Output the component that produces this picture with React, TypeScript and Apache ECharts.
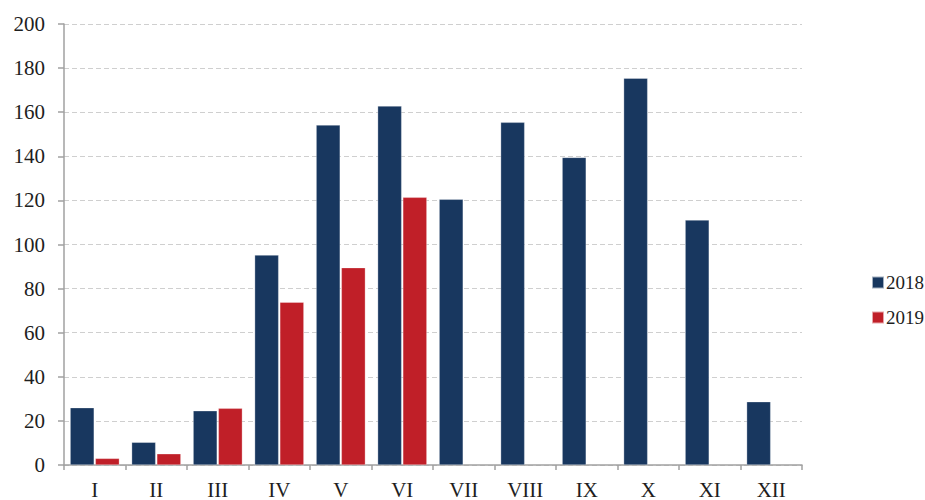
import React, { useEffect, useRef } from "react";
import * as echarts from "echarts";

const months = ["I", "II", "III", "IV", "V", "VI", "VII", "VIII", "IX", "X", "XI", "XII"];
const values2018 = [26, 10.3, 24.6, 95.2, 154.2, 162.8, 120.5, 155.4, 139.5, 175.4, 111.1, 28.7];
const values2019 = [3, 5.1, 25.7, 73.8, 89.5, 121.4, null, null, null, null, null, null];
const yTicks = { min: 0, max: 200, interval: 20 };

const NAVY = "#18375f";
const RED = "#c01f28";
const TEXT = "#1e1e1e";
const FONT = "Liberation Serif";

export default function App() {
  const ref = useRef<HTMLDivElement>(null);
  useEffect(() => {
    if (!ref.current) return;
    const chart = echarts.init(ref.current, undefined, { renderer: "svg" });
    chart.setOption({
      animation: false,
      backgroundColor: "#ffffff",
      textStyle: { fontFamily: FONT },
      grid: { left: 64, right: 123, top: 24, bottom: 35, containLabel: false },
      legend: {
        orient: "vertical",
        left: 866,
        top: 268,
        itemWidth: 12,
        itemHeight: 12,
        itemGap: 16,
        icon: "rect",
        textStyle: { fontFamily: FONT, fontSize: 19, color: TEXT, padding: [0, 0, 0, -3] },
        data: ["2018", "2019"],
      },
      xAxis: {
        type: "category",
        data: months,
        axisLine: { lineStyle: { color: "#a0a0a0", width: 1.5 } },
        axisTick: { show: true, length: 5, lineStyle: { color: "#a0a0a0", width: 1.5 } },
        axisLabel: { fontFamily: FONT, fontSize: 21, color: TEXT, margin: 14 },
      },
      yAxis: {
        type: "value",
        min: yTicks.min,
        max: yTicks.max,
        interval: yTicks.interval,
        axisLine: { show: true, lineStyle: { color: "#a0a0a0", width: 1.5 } },
        axisTick: { show: true, length: 6, lineStyle: { color: "#a0a0a0", width: 1.5 } },
        axisLabel: { fontFamily: FONT, fontSize: 21, color: TEXT, margin: 19 },
        splitLine: { show: true, lineStyle: { color: "#cfcfcf", type: [5, 3], width: 1 } },
      },
      series: [
        {
          name: "2018",
          type: "bar",
          data: values2018,
          barWidth: 24,
          barGap: "5%",
          itemStyle: { color: NAVY, borderColor: "rgba(255,255,255,0.6)", borderWidth: 0.5 },
        },
        {
          name: "2019",
          type: "bar",
          data: values2019,
          barWidth: 24,
          barGap: "5%",
          itemStyle: { color: RED, borderColor: "rgba(255,255,255,0.6)", borderWidth: 0.5 },
        },
      ],
    });
    return () => chart.dispose();
  }, []);
  return (
    <div
      ref={ref}
      style={{ position: "fixed", left: 0, top: 0, width: 925, height: 500, background: "#fff" }}
    />
  );
}
